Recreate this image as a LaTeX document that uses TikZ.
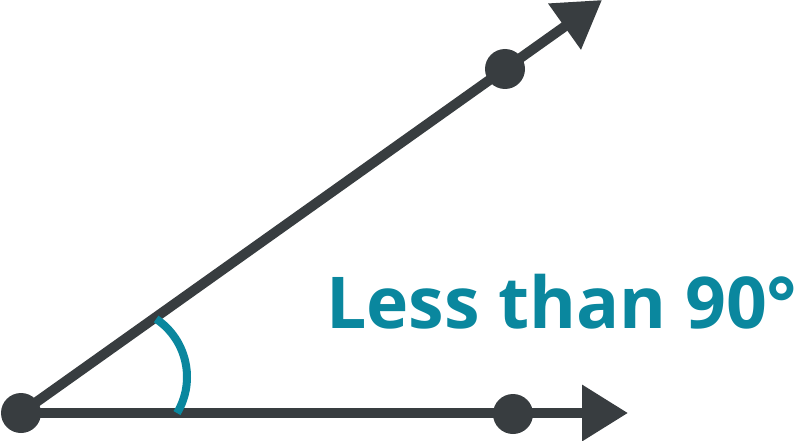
\documentclass[tikz,border=0pt]{standalone}
\usepackage{fontspec}
\setmainfont{Open Sans}
\usetikzlibrary{arrows.meta}
\definecolor{dark}{RGB}{56,61,64}
\definecolor{teal}{RGB}{10,135,158}
\begin{document}
\begin{tikzpicture}[x=1pt,y=1pt,
  ray/.style={draw=dark,line width=10pt,-{Triangle[length=46pt,width=54pt,fill=dark]}},
  dot/.style={circle,fill=dark,minimum size=40pt,inner sep=0pt},
  anglearc/.style={draw=teal,line width=8pt},
  lbl/.style={text=teal,font=\fontsize{71.5}{76}\selectfont\bfseries,anchor=base west,inner sep=0pt}]
\useasboundingbox (0,0) rectangle (800,440);
\coordinate (O) at (21,27);
\coordinate (T1) at (628,27);
\coordinate (T2) at (602,440);
\coordinate (C) at (117,63);
\draw[ray] (O) -- (T1);
\draw[ray] (O) -- (T2);
\node[dot] (v) at (O) {};
\node[dot] (p1) at (513,26) {};
\node[dot] (p2) at (505,371) {};
\draw[anglearc] (C) ++(-31:70) arc[start angle=-31,end angle=56,radius=70];
\node[lbl] (t) at (326,112) {Less than 90°};
\end{tikzpicture}
\end{document}
